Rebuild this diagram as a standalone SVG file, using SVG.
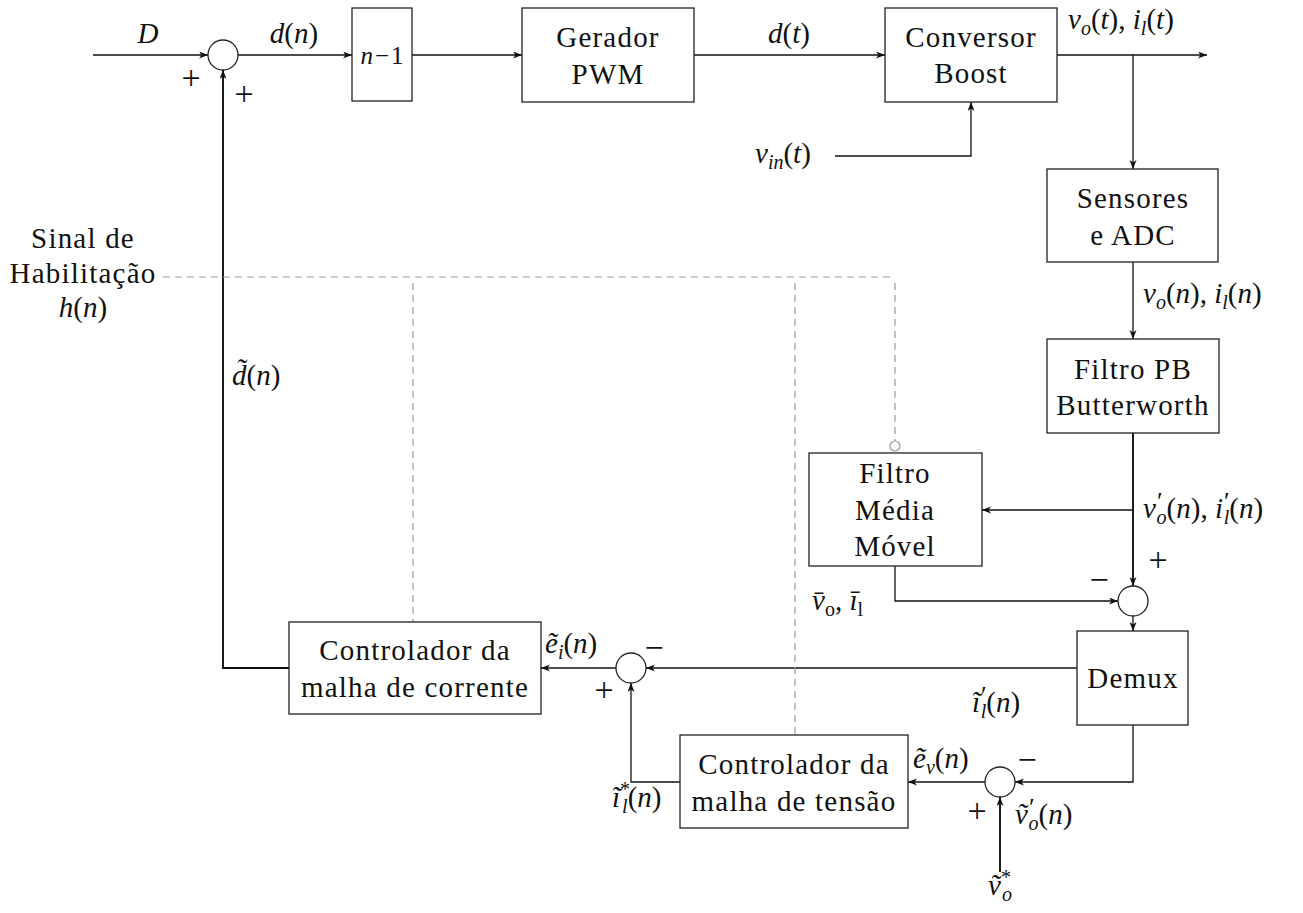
<svg xmlns="http://www.w3.org/2000/svg" width="1303" height="913" viewBox="0 0 1303 913">
<style>
text { font-family: 'Liberation Serif', 'Times New Roman', serif; font-size: 29px; fill: #111; }
.lbl { letter-spacing: 1.2px; }
.i { font-style: italic; }
.s { font-size: 20px; }
.p { font-size: 26px; }
.op { font-size: 34px; }
.box { fill: #fff; stroke: #222; stroke-width: 1.3; }
.sum { fill: #fff; stroke: #222; stroke-width: 1.3; }
.w { fill: none; stroke: #111; stroke-width: 1.3; }
.wt { fill: none; stroke: #111; stroke-width: 1.9; }
.a { marker-end: url(#arr); }
.dash { fill: none; stroke: #999; stroke-width: 1.2; stroke-dasharray: 7 5; }
</style>
<defs>
<marker id="arr" markerUnits="userSpaceOnUse" markerWidth="10" markerHeight="8" refX="9" refY="3.5" orient="auto">
<path d="M0,0 L9,3.5 L0,7 L2.5,3.5 z" fill="#111"/>
</marker>
</defs>
<rect width="1303" height="913" fill="#fff"/>

<g id="connectors">
<line class="w a" x1="93" y1="55" x2="208" y2="55"/>
<line class="w a" x1="238" y1="55" x2="352" y2="55"/>
<line class="w a" x1="412" y1="55" x2="522" y2="55"/>
<line class="w a" x1="694" y1="55" x2="885" y2="55"/>
<line class="w a" x1="1057" y1="55" x2="1207" y2="55"/>
<line class="w a" x1="1133" y1="55" x2="1133" y2="169"/>
<polyline class="w a" points="835,156 971,156 971,102"/>
<line class="w a" x1="1133" y1="262" x2="1133" y2="339"/>
<line class="wt a" x1="1133" y1="433" x2="1133" y2="586"/>
<line class="w a" x1="1133" y1="510" x2="982" y2="510"/>
<polyline class="w a" points="895,566 895,601 1118,601"/>
<line class="w a" x1="1133" y1="616" x2="1133" y2="631"/>
<line class="w a" x1="1077" y1="668" x2="646" y2="668"/>
<polyline class="w a" points="1133,725 1133,782 1015,782"/>
<line class="wt a" x1="1000" y1="872" x2="1000" y2="797"/>
<line class="w a" x1="985" y1="782" x2="908" y2="782"/>
<polyline class="w a" points="680,782 631,782 631,683"/>
<line class="w a" x1="616" y1="668" x2="541" y2="668"/>
<polyline class="wt a" points="289,668 223,668 223,70"/>
<line class="dash" x1="163" y1="277" x2="895" y2="277"/>
<line class="dash" x1="413" y1="283" x2="413" y2="622"/>
<line class="dash" x1="795" y1="283" x2="795" y2="735"/>
<line class="dash" x1="895" y1="283" x2="895" y2="441"/>
<circle cx="895" cy="446" r="5" fill="#fff" stroke="#999" stroke-width="1.2"/>
</g>

<g id="sum1"><circle class="sum" cx="223" cy="55" r="15"/>
<text class="op" x="191" y="89" text-anchor="middle">+</text>
<text class="op" x="244" y="105" text-anchor="middle">+</text></g>

<g id="delay"><rect class="box" x="352" y="8" width="60" height="93"/>
<text x="382" y="64" text-anchor="middle" style="font-size:25px"><tspan class="i">n</tspan><tspan dx="2">−</tspan><tspan dx="2">1</tspan></text></g>

<g id="pwm"><rect class="box" x="522" y="8" width="172" height="94"/>
<text class="lbl" x="608" y="47" text-anchor="middle">Gerador</text>
<text class="lbl" x="608" y="84" text-anchor="middle">PWM</text></g>

<g id="boost"><rect class="box" x="885" y="8" width="172" height="94"/>
<text class="lbl" x="971" y="47" text-anchor="middle">Conversor</text>
<text class="lbl" x="971" y="83" text-anchor="middle">Boost</text></g>

<g id="sensores"><rect class="box" x="1047" y="169" width="171" height="93"/>
<text class="lbl" x="1133" y="208" text-anchor="middle">Sensores</text>
<text class="lbl" x="1133" y="245" text-anchor="middle">e ADC</text></g>

<g id="filtro-pb"><rect class="box" x="1047" y="339" width="172" height="94"/>
<text class="lbl" x="1133" y="379" text-anchor="middle">Filtro PB</text>
<text class="lbl" x="1133" y="415" text-anchor="middle">Butterworth</text></g>

<g id="filtro-mm"><rect class="box" x="809" y="453" width="173" height="113"/>
<text class="lbl" x="895" y="483" text-anchor="middle">Filtro</text>
<text class="lbl" x="895" y="520" text-anchor="middle">Média</text>
<text class="lbl" x="895" y="556" text-anchor="middle">Móvel</text></g>

<g id="sum2"><circle class="sum" cx="1133" cy="601" r="15"/>
<text class="op" x="1158" y="571" text-anchor="middle">+</text>
<text class="op" x="1099" y="591" text-anchor="middle">−</text></g>

<g id="demux"><rect class="box" x="1077" y="631" width="111" height="94"/>
<text class="lbl" x="1133" y="688" text-anchor="middle">Demux</text></g>

<g id="sum3"><circle class="sum" cx="631" cy="668" r="15"/>
<text class="op" x="654" y="659" text-anchor="middle">−</text>
<text class="op" x="604" y="701" text-anchor="middle">+</text></g>

<g id="ctrl-corrente"><rect class="box" x="289" y="622" width="252" height="92"/>
<text class="lbl" x="415" y="660" text-anchor="middle">Controlador da</text>
<text class="lbl" x="415" y="697" text-anchor="middle">malha de corrente</text></g>

<g id="sum4"><circle class="sum" cx="1000" cy="782" r="15"/>
<text class="op" x="1027" y="771" text-anchor="middle">−</text>
<text class="op" x="977" y="822" text-anchor="middle">+</text></g>

<g id="ctrl-tensao"><rect class="box" x="680" y="735" width="228" height="93"/>
<text class="lbl" x="794" y="774" text-anchor="middle">Controlador da</text>
<text class="lbl" x="794" y="811" text-anchor="middle">malha de tensão</text></g>

<g id="labels">
<text x="148" y="43" text-anchor="middle" class="i">D</text>
<text x="294" y="43" text-anchor="middle"><tspan class="i">d</tspan>(<tspan class="i">n</tspan>)</text>
<text x="789" y="43" text-anchor="middle"><tspan class="i">d</tspan>(<tspan class="i">t</tspan>)</text>
<text x="1068" y="29"><tspan class="i">v</tspan><tspan class="i s" dy="6">o</tspan><tspan dy="-6">(</tspan><tspan class="i">t</tspan>), <tspan class="i">i</tspan><tspan class="i s" dy="6">l</tspan><tspan dy="-6">(</tspan><tspan class="i">t</tspan>)</text>
<text x="755" y="163"><tspan class="i">v</tspan><tspan class="i s" dy="6">in</tspan><tspan dy="-6">(</tspan><tspan class="i">t</tspan>)</text>
<text x="1143" y="303"><tspan class="i">v</tspan><tspan class="i s" dy="6">o</tspan><tspan dy="-6">(</tspan><tspan class="i">n</tspan>), <tspan class="i">i</tspan><tspan class="i s" dy="6">l</tspan><tspan dy="-6">(</tspan><tspan class="i">n</tspan>)</text>
<text x="1143" y="518"><tspan class="i">v</tspan><tspan class="p" dx="1" dy="-8">′</tspan><tspan class="i s" dx="-6" dy="14">o</tspan><tspan dy="-6">(</tspan><tspan class="i">n</tspan>), <tspan class="i">i</tspan><tspan class="p" dx="1" dy="-8">′</tspan><tspan class="i s" dx="-6" dy="14">l</tspan><tspan dy="-6">(</tspan><tspan class="i">n</tspan>)</text>
<text x="812" y="610"><tspan class="i">v̄</tspan><tspan class="s" dy="6">o</tspan><tspan dy="-6">, </tspan><tspan class="i">ī</tspan><tspan class="s" dy="6">l</tspan></text>
<text x="545" y="653"><tspan class="i">ẽ</tspan><tspan class="i s" dy="6">i</tspan><tspan dy="-6">(</tspan><tspan class="i">n</tspan>)</text>
<text x="972" y="712"><tspan class="i">ĩ</tspan><tspan class="p" dx="1" dy="-8">′</tspan><tspan class="i s" dx="-6" dy="14">l</tspan><tspan dy="-6">(</tspan><tspan class="i">n</tspan>)</text>
<text x="913" y="768"><tspan class="i">ẽ</tspan><tspan class="i s" dy="6">v</tspan><tspan dy="-6">(</tspan><tspan class="i">n</tspan>)</text>
<text x="1015" y="824"><tspan class="i">ṽ</tspan><tspan class="p" dx="1" dy="-8">′</tspan><tspan class="i s" dx="-6" dy="14">o</tspan><tspan dy="-6">(</tspan><tspan class="i">n</tspan>)</text>
<text x="612" y="807"><tspan class="i">ĩ</tspan><tspan class="s" dy="-11">*</tspan><tspan class="i s" dx="-8" dy="17">l</tspan><tspan dy="-6">(</tspan><tspan class="i">n</tspan>)</text>
<text x="1000" y="895" text-anchor="middle"><tspan class="i">ṽ</tspan><tspan class="s" dy="-11">*</tspan><tspan class="i s" dx="-9" dy="17">o</tspan></text>
<text x="232" y="385"><tspan class="i">d̃</tspan>(<tspan class="i">n</tspan>)</text>
<text class="lbl" x="83" y="248" text-anchor="middle">Sinal de</text>
<text class="lbl" x="83" y="283" text-anchor="middle">Habilitação</text>
<text x="83" y="317" text-anchor="middle"><tspan class="i">h</tspan>(<tspan class="i">n</tspan>)</text>
</g>
</svg>
